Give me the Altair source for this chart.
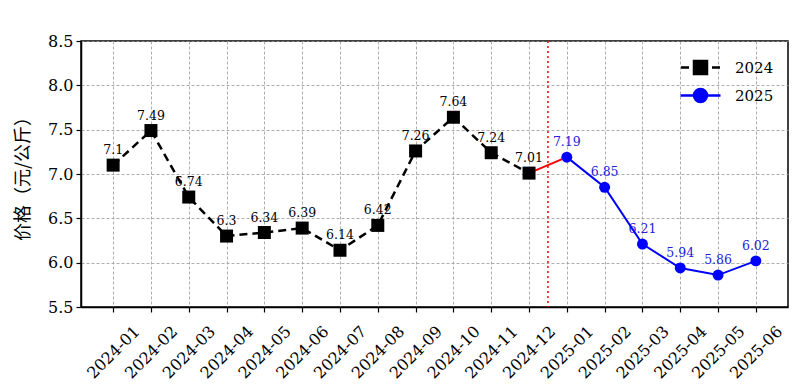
import altair as alt
import pandas as pd

months = ["2024-01", "2024-02", "2024-03", "2024-04", "2024-05", "2024-06",
          "2024-07", "2024-08", "2024-09", "2024-10", "2024-11", "2024-12",
          "2025-01", "2025-02", "2025-03", "2025-04", "2025-05", "2025-06"]
values_2024 = [7.1, 7.49, 6.74, 6.3, 6.34, 6.39, 6.14, 6.42, 7.26, 7.64, 7.24, 7.01]
values_2025 = [7.19, 6.85, 6.21, 5.94, 5.86, 6.02]
series_names = ["2024", "2025"]
y_ticks = [5.5, 6.0, 6.5, 7.0, 7.5, 8.0, 8.5]

n24 = len(values_2024)
df24 = pd.DataFrame({"idx": list(range(n24)), "month": months[:n24],
                     "value": values_2024, "series": "2024"})
df25 = pd.DataFrame({"idx": list(range(n24, len(months))), "month": months[n24:],
                     "value": values_2025, "series": "2025"})
df_all = pd.concat([df24, df25], ignore_index=True)
bridge = pd.concat([df24.tail(1), df25.head(1)], ignore_index=True)
divider = pd.DataFrame({"idx": [n24 - 0.5]})

SERIF = "DejaVu Serif, Noto Sans CJK SC"
label_expr = "[" + ",".join("'%s'" % m for m in months) + "][datum.value]"

x_enc = alt.X("idx:Q",
              scale=alt.Scale(domain=[-0.85, len(months) - 1 + 0.85], nice=False, zero=False),
              axis=alt.Axis(values=list(range(len(months))), labelExpr=label_expr,
                            labelAngle=315, labelAlign="center", labelBaseline="middle",
                            labelPadding=40, labelFontSize=16, labelFont=SERIF,
                            labelColor="black", labelOverlap=False, labelBound=False,
                            title=None))
y_enc = alt.Y("value:Q",
              scale=alt.Scale(domain=[5.5, 8.5], nice=False, zero=False),
              axis=alt.Axis(values=y_ticks, format=".1f", labelFontSize=16, labelFont=SERIF,
                            labelColor="black", labelPadding=3,
                            title="价格（元/公斤）", titleFont="Noto Sans CJK SC",
                            titleFontSize=18, titleFontWeight="normal", titleColor="black",
                            titleAngle=270, titleX=-58, titleY=133, titleAlign="center",
                            titleBaseline="middle"))

base24 = alt.Chart(df24)
base25 = alt.Chart(df25)

rule = alt.Chart(divider).mark_rule(color="red", strokeDash=[2, 3], strokeWidth=1.5).encode(x="idx:Q")

text24 = base24.mark_text(font=SERIF, fontSize=12.5, color="black", baseline="alphabetic",
                          dy=-11).encode(x=x_enc, y=y_enc, text="value:Q")
text25 = base25.mark_text(font=SERIF, fontSize=12.5, color="#2222dd", baseline="alphabetic",
                          dy=-11).encode(x="idx:Q", y="value:Q", text="value:Q")

line24 = base24.mark_line(color="black", strokeDash=[8, 5], strokeWidth=2.5).encode(x="idx:Q", y="value:Q")
line25 = base25.mark_line(color="blue", strokeWidth=2).encode(x="idx:Q", y="value:Q")
bridge_line = alt.Chart(bridge).mark_line(color="red", strokeWidth=2).encode(x="idx:Q", y="value:Q")

pts24 = base24.mark_square(size=169, color="black", opacity=1).encode(x="idx:Q", y="value:Q")
pts25 = base25.mark_circle(size=120, color="blue", opacity=1).encode(x="idx:Q", y="value:Q")

sq_path = "M-1.95,0H-1.15M1.15,0H1.95M-0.65,-0.65H0.65V0.65H-0.65Z"
ci_path = "M-2,0H2M0.65,0A0.65,0.65,0,1,1,-0.65,0A0.65,0.65,0,1,1,0.65,0Z"

legend_layer = alt.Chart(df_all).mark_point(filled=True, opacity=1, strokeWidth=2.5).encode(
    x="idx:Q", y="value:Q",
    shape=alt.Shape("series:N", scale=alt.Scale(domain=series_names, range=[sq_path, ci_path]),
                    legend=alt.Legend(title=None, orient="none", legendX=608, legendY=15,
                                      symbolSize=400, symbolStrokeWidth=2.5, labelOffset=23,
                                      labelFont=SERIF, labelFontSize=15, labelColor="black",
                                      rowPadding=5, padding=0)),
    fill=alt.Fill("series:N", scale=alt.Scale(domain=series_names, range=["black", "blue"])),
    stroke=alt.Stroke("series:N", scale=alt.Scale(domain=series_names, range=["black", "blue"])),
).transform_filter("false")

chart = alt.layer(
    text24, text25, rule, line24, bridge_line, line25, pts24, pts25, legend_layer
).properties(
    width=707, height=266,
    autosize=alt.AutoSizeParams(type="none"),
    padding={"left": 73, "top": 33, "right": 5, "bottom": 76},
).configure_view(
    stroke="black", strokeWidth=1.5
).configure_axis(
    domainColor="black", domainWidth=1.5, tickColor="black", tickSize=5, tickWidth=1.2,
    grid=True, gridColor="#999999", gridDash=[3, 2], gridWidth=0.8
)

chart.save("out.html", embed_options={"renderer": "svg", "actions": False})
